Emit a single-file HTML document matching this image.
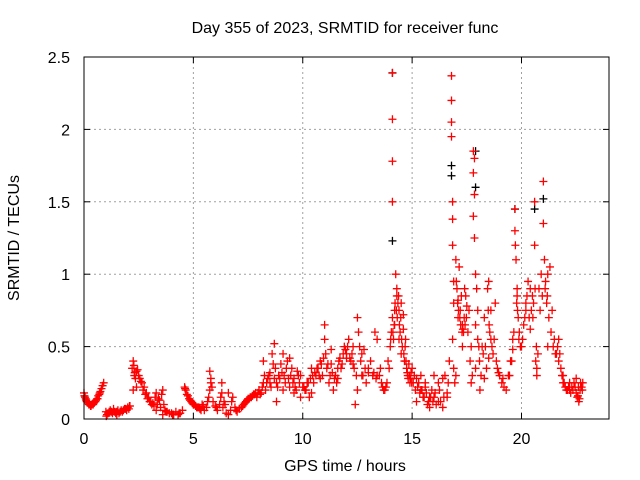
<!DOCTYPE html>
<html><head><meta charset="utf-8"><style>
body{margin:0;background:#fff;}
svg{display:block;font-family:"Liberation Sans",sans-serif;}
</style></head><body>
<svg id="chart" width="640" height="480">
<rect width="640" height="480" fill="#fff"/>
<text x="345" y="33" font-size="16" text-anchor="middle">Day 355 of 2023, SRMTID for receiver func</text>
<text x="345" y="471" font-size="16" text-anchor="middle">GPS time / hours</text>
<text transform="translate(19,238) rotate(-90)" font-size="16" text-anchor="middle">SRMTID / TECUs</text>
<g id="grid"></g><g id="ticks"></g><g id="series2"></g><g id="series1"></g>
<rect x="84" y="57" width="525" height="362" fill="none" stroke="#000" stroke-width="1"/>
</svg>
<script>
const xTicks=[0,5,10,15,20];
const yTicks=[0,0.5,1,1.5,2,2.5];
const yTickLabels=["0","0.5","1","1.5","2","2.5"];
const times=[
0,0.05,0.1,0.15,0.2,0.25,0.3,0.35,0.4,0.45,0.5,0.55,0.6,0.65,0.7,0.75,0.8,0.85,0.9,
1.0,1.1,1.2,1.3,1.4,1.5,1.6,1.7,1.8,1.9,2.0,2.1,1.05,1.35,1.65,1.95,
2.2,2.25,2.3,2.35,2.4,2.5,2.6,2.7,2.8,2.9,3.0,3.1,3.2,3.3,3.35,3.4,3.5,3.6,3.65,3.7,3.8,3.9,4.0,4.1,4.2,4.3,4.4,4.5,2.25,2.4,3.3,3.6,
4.6,4.65,4.7,4.8,4.9,5.0,5.1,5.2,5.3,5.4,5.5,5.6,5.7,5.75,5.8,5.9,6.0,6.1,6.2,6.3,6.35,6.4,6.5,6.6,6.7,6.8,6.9,7.0,7.1,5.75,5.8,6.3,6.6,
7.2,7.3,7.4,7.5,7.6,7.7,7.8,7.9,8.0,8.1,8.2,8.25,8.3,8.4,8.5,8.55,8.6,8.7,8.75,8.8,8.9,9.0,9.1,9.2,9.3,9.4,9.5,9.6,9.7,9.8,9.9,10.0,8.2,8.5,8.7,8.8,9.1,9.4,9.6,9.9,
10.1,10.2,10.3,10.4,10.5,10.6,10.7,10.8,10.9,11.0,11.05,11.1,11.2,11.3,11.4,11.5,11.6,11.7,11.8,11.9,12.0,12.1,12.2,12.3,12.4,12.5,12.55,12.6,12.7,12.8,12.9,13.0,13.1,13.2,13.3,13.4,13.5,13.6,13.7,13.8,13.9,10.4,10.8,11.0,11.3,11.6,12.0,12.3,12.5,12.7,13.0,13.4,
14.0,14.05,14.1,14.1,14.1,14.1,14.1,14.15,14.2,14.25,14.3,14.35,14.4,14.45,14.5,14.55,14.6,14.65,14.7,14.75,14.8,14.85,14.9,14.95,15.0,14.2,14.3,14.4,14.5,14.6,
15.1,15.2,15.3,15.4,15.5,15.6,15.7,15.8,15.9,16.0,16.1,16.2,16.3,16.4,16.5,16.6,16.7,15.2,15.4,15.6,15.8,16.0,16.2,16.4,16.6,
16.8,16.8,16.8,16.8,16.85,16.85,16.85,16.9,16.9,16.9,16.95,17.0,17.05,17.1,17.15,17.2,17.25,17.3,17.35,17.4,17.45,17.5,16.85,17.0,17.1,17.3,
17.6,17.7,17.8,17.8,17.8,17.85,17.85,17.85,17.9,17.9,17.95,18.0,18.05,18.1,18.2,18.3,18.4,18.45,18.5,18.55,18.6,18.7,18.8,18.9,19.0,19.1,19.2,19.3,19.4,17.7,17.9,18.0,18.3,18.5,18.6,
19.5,19.6,19.7,19.7,19.75,19.8,19.85,19.9,20.0,20.1,20.2,20.3,20.4,20.5,20.55,20.6,20.6,20.65,20.7,20.8,20.9,21.0,21.0,21.05,21.1,21.15,21.2,21.3,21.35,21.4,21.5,19.6,19.8,20.2,20.4,20.7,21.2,
21.6,21.7,21.8,21.9,22.0,22.1,22.2,22.3,22.4,22.5,22.55,22.6,22.65,22.7,22.8,21.7,21.9,22.2,22.5,
0.02,.08,.12,.22,.32,.42,.52,.62,.72,
1.15,1.25,1.45,1.55,1.75,1.85,2.05,1.02,1.5,2.08,
2.28,2.32,2.45,2.55,2.65,2.75,2.85,2.95,3.05,3.15,3.25,3.45,3.55,3.75,4.05,4.35,
4.62,4.75,4.85,4.95,5.05,5.15,5.25,5.35,5.45,5.65,5.85,6.05,6.25,6.45,6.75,6.95,
7.25,7.35,7.45,7.55,7.65,7.75,7.85,7.95,8.05,8.15,8.35,8.45,8.65,8.85,8.95,9.05,9.15,9.25,9.35,9.45,9.55,9.65,9.75,9.85,
10.05,10.15,10.25,10.35,10.45,10.55,10.65,10.75,10.85,10.95,11.15,11.25,11.35,11.45,11.55,11.65,11.75,11.85,11.95,12.05,12.15,12.25,12.35,12.45,12.65,12.75,12.85,13.25,13.35,13.55,
13.65,13.75,13.85,13.95,14.02,14.12,14.18,14.22,14.28,14.32,14.38,14.42,14.48,14.52,
14.62,14.68,14.72,14.78,14.82,14.88,14.92,14.98,15.05,15.15,15.25,15.35,15.45,15.55,15.65,15.75,15.85,15.95,16.05,16.25,16.45,16.65,
17.02,17.08,17.12,17.18,17.22,17.28,17.32,17.38,17.42,17.48,17.55,17.65,17.75,18.08,18.15,18.25,18.35,18.48,18.52,18.65,18.75,18.85,18.95,19.15,
19.45,19.55,19.65,19.72,19.78,19.82,19.88,19.95,20.05,20.15,20.25,20.35,20.45,20.52,20.62,20.68,20.75,20.85,20.95,21.08,21.18,21.25,21.45,21.55,
21.65,21.75,21.85,21.95,22.05,22.15,22.25,22.35,22.45,22.58,22.62,22.68,22.75,22.78
];
const tec=[
.18,.15,.13,.12,.11,.1,.09,.1,.1,.11,.12,.13,.14,.16,.17,.19,.21,.23,.25,
.05,.04,.06,.04,.05,.05,.04,.06,.06,.07,.08,.09,.03,.07,.05,.06,
.35,.4,.3,.28,.33,.3,.26,.2,.17,.14,.12,.1,.09,.18,.1,.14,.08,.2,.1,.06,.05,.04,.04,.03,.05,.03,.04,.06,.2,.22,.06,.03,
.22,.2,.17,.14,.12,.1,.09,.08,.07,.1,.06,.08,.15,.33,.25,.12,.09,.06,.1,.25,.08,.12,.04,.18,.06,.15,.08,.05,.07,.2,.28,.18,.03,
.08,.1,.12,.14,.15,.16,.17,.15,.2,.18,.4,.3,.2,.28,.25,.22,.45,.52,.35,.12,.3,.38,.45,.25,.4,.22,.35,.28,.2,.3,.15,.22,.25,.32,.28,.25,.2,.42,.18,.3,
.2,.25,.15,.35,.25,.3,.35,.4,.3,.65,.45,.35,.25,.48,.2,.3,.35,.42,.38,.5,.45,.55,.4,.38,.1,.7,.6,.5,.3,.48,.25,.32,.4,.3,.6,.55,.3,.25,.2,.22,.4,.18,.28,.55,.38,.28,.42,.5,.2,.45,.35,.3,
.5,.6,2.39,2.07,1.78,1.5,.7,.55,.75,1.0,.85,.8,.75,.6,.8,.5,.72,.4,.55,.35,.3,.38,.25,.32,.35,.65,.9,.55,.45,.62,
.3,.12,.25,.2,.15,.25,.1,.08,.2,.15,.1,.25,.12,.08,.3,.18,.4,.28,.3,.22,.15,.3,.12,.28,.15,
2.37,2.2,2.05,1.95,1.5,1.38,1.2,.95,.8,.35,.25,1.1,.9,.82,1.05,.75,.85,.65,.6,.9,.85,.78,.55,.3,.7,.5,
.75,.25,1.85,1.7,1.4,1.8,1.25,1.55,1.0,.65,.9,.75,.5,.2,.5,.7,.35,.9,.95,.6,.55,.45,.8,.35,.3,.25,.22,.2,.3,.5,.35,.55,.28,.42,.75,
.4,.55,1.45,1.3,1.1,.9,.7,.6,.5,.65,.8,.95,.9,.85,.8,1.5,1.2,.4,.35,.9,1.0,1.64,1.35,1.1,.95,.8,1.0,1.05,.6,.75,.55,.48,.85,.75,.62,.3,.5,
.45,.55,.35,.3,.22,.2,.2,.22,.25,.18,.15,.22,.14,.25,.25,.4,.25,.25,.28,
.16,.14,.12,.1,.09,.1,.12,.14,.18,
.05,.05,.04,.06,.05,.07,.07,.02,.03,.09,
.37,.32,.34,.28,.25,.22,.18,.15,.12,.11,.15,.13,.17,.05,.03,.04,
.21,.16,.13,.11,.1,.08,.08,.06,.09,.12,.22,.08,.15,.1,.12,.06,
.09,.11,.13,.14,.15,.17,.18,.18,.17,.22,.25,.3,.38,.22,.28,.32,.3,.35,.28,.3,.25,.22,.33,.25,
.22,.2,.25,.28,.3,.32,.35,.3,.38,.42,.38,.3,.32,.28,.25,.4,.35,.45,.48,.5,.42,.45,.35,.3,.4,.3,.35,.32,.28,.35,
.22,.2,.25,.35,.55,.6,.65,.8,.75,.7,.85,.65,.7,.55,
.45,.5,.4,.32,.28,.3,.28,.25,.25,.2,.22,.18,.2,.15,.18,.12,.15,.12,.18,.2,.15,.25,
.95,.8,.75,.7,.65,.6,.62,.7,.65,.7,.6,.4,.3,.4,.3,.45,.5,.75,.65,.5,.55,.4,.32,.28,
.3,.4,.6,1.2,.8,.75,.55,.5,.55,.7,.85,.7,.75,.7,.9,.5,.45,.75,.85,.9,.85,.7,.5,.45,
.5,.45,.3,.25,.2,.22,.18,.2,.22,.16,.12,.2,.22,.2
];
const times2=[14.1,14.1,16.8,16.8,17.9,17.9,19.7,21.0,20.6];
const tec2=[2.39,1.23,1.75,1.68,1.85,1.6,1.45,1.52,1.45];

const NS='http://www.w3.org/2000/svg';
const X0=84,X1=609,Y0=419,Y1=57,XMAX=24,YMAX=2.5;
function xs(t){return X0+(X1-X0)*t/XMAX;}
function ys(v){return Y0-(Y0-Y1)*v/YMAX;}
function mk(tag,attrs,parent){const e=document.createElementNS(NS,tag);for(const k in attrs)e.setAttribute(k,attrs[k]);document.getElementById(parent).appendChild(e);return e;}
xTicks.forEach((t,i)=>{
  const x=xs(t);
  if(t>0){const g=mk('line',{x1:x,y1:Y1,x2:x,y2:Y0,stroke:'#a0a0a0','stroke-dasharray':'2,3'},'grid');
  
  }
  mk('line',{x1:x,y1:Y0,x2:x,y2:Y0-6,stroke:'#000'},'ticks');
  mk('line',{x1:x,y1:Y1,x2:x,y2:Y1+6,stroke:'#000'},'ticks');
  const l=mk('text',{x:x,y:444,'font-size':16,'text-anchor':'middle'},'ticks');
  l.textContent=String(t);
  
  
});
yTicks.forEach((v,i)=>{
  const y=ys(v);
  if(v>0&&v<YMAX){const g=mk('line',{x1:X0,y1:y,x2:X1,y2:y,stroke:'#a0a0a0','stroke-dasharray':'2,3'},'grid');
  
  }
  mk('line',{x1:X0,y1:y,x2:X0+6,y2:y,stroke:'#000'},'ticks');
  mk('line',{x1:X1,y1:y,x2:X1-6,y2:y,stroke:'#000'},'ticks');
  const l=mk('text',{x:70,y:y+6,'font-size':16,'text-anchor':'end'},'ticks');
  l.textContent=yTickLabels[i];
  
  
});
function plus(t,v,color,parent){
  const x=xs(t),y=ys(v);
  const p=mk('path',{d:`M${x-4},${y}H${x+4}M${x},${y-4}V${y+4}`,stroke:color,'stroke-width':1.3,fill:'none'},parent);
  return p;
}
times2.forEach((t,i)=>{
  const p=plus(t,tec2[i],'#000','series2');
  
  
});
times.forEach((t,i)=>{
  const p=plus(t,tec[i],'#ff0000','series1');
  
  
});
</script>
</body></html>
